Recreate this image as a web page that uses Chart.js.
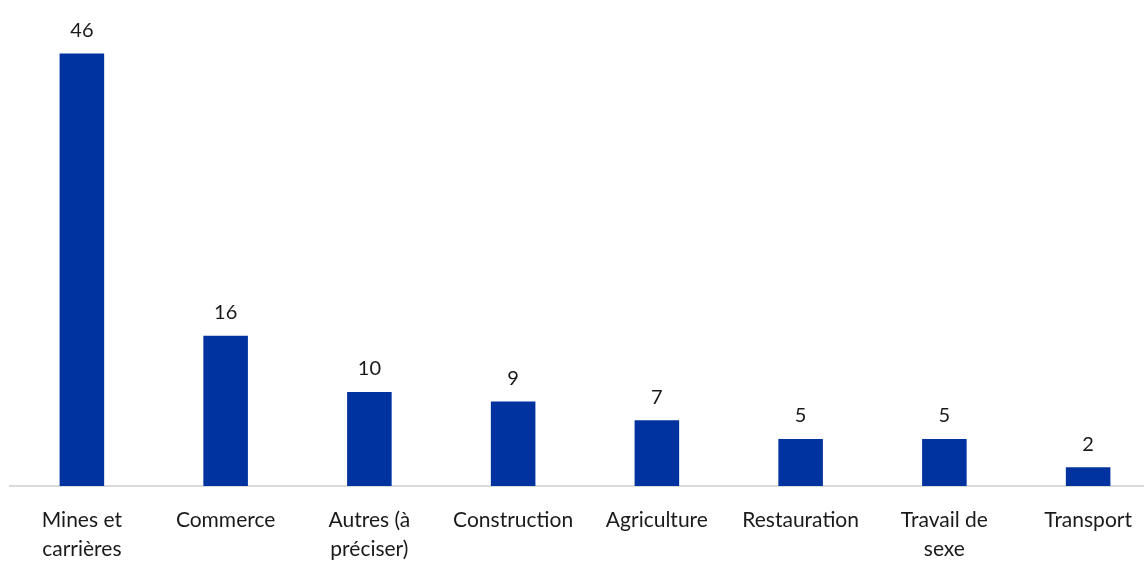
<!DOCTYPE html>
<html>
<head>
<meta charset="utf-8">
<script src="https://cdn.jsdelivr.net/npm/chart.js@4/dist/chart.umd.min.js"></script>
<style>
  html, body { margin: 0; padding: 0; background: #fff; overflow: hidden; }
  #wrap { width: 1160px; height: 584px; }
</style>
</head>
<body>
<div id="wrap"><canvas id="sectorChart"></canvas></div>
<script>
const sectors = [
  ["Mines et", "carrières"],
  "Commerce",
  ["Autres (à", "préciser)"],
  "Construction",
  "Agriculture",
  "Restauration",
  ["Travail de", "sexe"],
  "Transport"
];
const counts = [46, 16, 10, 9, 7, 5, 5, 2];

const FONT = "Lato, 'Open Sans', sans-serif";

// value written above each bar
const valueLabels = {
  id: 'valueLabels',
  afterDatasetsDraw(chart) {
    const ctx = chart.ctx;
    const meta = chart.getDatasetMeta(0);
    ctx.save();
    ctx.font = "20px " + FONT;
    ctx.fillStyle = "#1a1a1a";
    ctx.textAlign = "center";
    ctx.textBaseline = "bottom";
    meta.data.forEach((bar, i) => {
      ctx.fillText(counts[i], bar.x, bar.y - 13);
    });
    ctx.restore();
  }
};

const ctx = document.getElementById('sectorChart').getContext('2d');
new Chart(ctx, {
  type: 'bar',
  data: {
    labels: sectors,
    datasets: [{
      data: counts,
      backgroundColor: '#0033a0',
      categoryPercentage: 1,
      barPercentage: 0.31
    }]
  },
  options: {
    responsive: true,
    maintainAspectRatio: false,
    animation: false,
    layout: { padding: { left: 10, right: 0, top: 16, bottom: 0 } },
    plugins: {
      legend: { display: false },
      tooltip: { enabled: false }
    },
    scales: {
      x: {
        grid: { display: false, drawTicks: false },
        border: { color: '#d9d9d9', width: 2 },
        ticks: {
          color: '#1a1a1a',
          font: { family: FONT, size: 21, lineHeight: 1.38 },
          padding: 20,
          maxRotation: 0,
          autoSkip: false
        }
      },
      y: {
        display: false,
        min: 0,
        max: 50
      }
    }
  },
  plugins: [valueLabels]
});
</script>
</body>
</html>
